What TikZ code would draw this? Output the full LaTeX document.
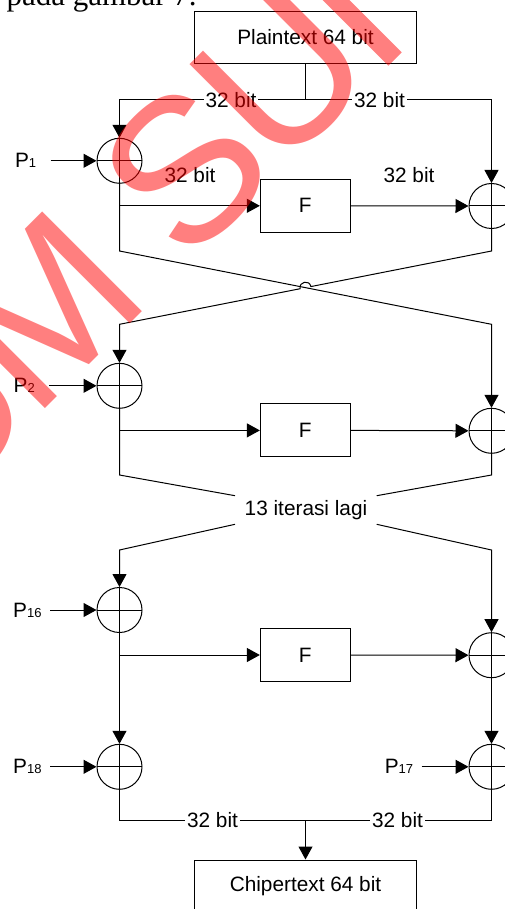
\documentclass[tikz,border=0pt]{standalone}
\usepackage{fontspec}
\setmainfont{Liberation Sans}
\newfontfamily\headserif{Liberation Serif}
\usetikzlibrary{arrows.meta,calc}
\newcommand{\smallsub}[1]{{\fontsize{13}{13}\selectfont #1}}
\tikzset{
  base/.style={font=\fontsize{20.8}{24}\selectfont},
  txtbox/.style={base, draw, minimum width=222.7pt, minimum height=52pt, inner sep=0pt},
  fbox/.style={base, draw, minimum width=89.7pt, minimum height=53pt, inner sep=0pt},
  xor/.style={draw, circle, minimum size=45pt, inner sep=0pt,
    path picture={\draw (path picture bounding box.north) -- (path picture bounding box.south)
                        (path picture bounding box.west) -- (path picture bounding box.east);}},
  arr/.style={-{Triangle[length=13pt,width=14pt]}},
  lbl/.style={base, fill=white, inner xsep=2pt, inner ysep=0pt},
  plain/.style={base, inner sep=0pt},
  plbl/.style={base, inner ysep=0pt, anchor=east},
  wm/.style={text=red, text opacity=0.5, inner sep=0pt, rotate=45, anchor=base west,
    font=\fontsize{205}{205}\selectfont}
}
\begin{document}
\begin{tikzpicture}[x=1pt,y=-1pt,line width=1pt]
\useasboundingbox (0,0) rectangle (505,909);
\clip (0,0) rectangle (505,909);
\fill[white] (0,0) rectangle (505,909);

% heading fragment
\node[anchor=base west, inner sep=0pt, font=\headserif\fontsize{31}{31}\selectfont] (head) at (6,6) {pada gambar 7.};

% boxes
\node[txtbox] (pt) at (305.5,37.5) {Plaintext 64 bit};
\node[txtbox] (ct) at (305.5,886) {Chipertext 64 bit};
\node[fbox] (f1) at (305.2,205.8) {F};
\node[fbox] (f2) at (305.2,430.4) {F};
\node[fbox] (f3) at (305.2,655) {F};

% xor circles
\node[xor] (x1) at (119.5,160.8) {};
\node[xor] (y1) at (491.5,206) {};
\node[xor] (x2) at (119.5,385.8) {};
\node[xor] (y2) at (491.5,430.8) {};
\node[xor] (x3) at (119.5,610) {};
\node[xor] (y3) at (491.5,655.2) {};
\node[xor] (x4) at (119.5,766.8) {};
\node[xor] (y4) at (491.5,766.8) {};

% P labels
\node[plbl, inner xsep=14pt] (p1) at (50.7,160.8) {P\smallsub{1}};
\node[plbl, inner xsep=14pt] (p2) at (49.3,385.8) {P\smallsub{2}};
\node[plbl, inner xsep=8pt] (p16) at (50,610) {P\smallsub{16}};
\node[plbl, inner xsep=8pt] (p18) at (50,766.8) {P\smallsub{18}};
\node[plbl, inner xsep=8pt] (p17) at (421.7,766.8) {P\smallsub{17}};
\draw[arr] (p1.east) -- (x1.west);
\draw[arr] (p2.east) -- (x2.west);
\draw[arr] (p16.east) -- (x3.west);
\draw[arr] (p18.east) -- (x4.west);
\draw[arr] (p17.east) -- (y4.west);

% top split
\coordinate (j1) at (305.5,100);
\draw (pt.south) -- (j1);
\draw[arr] (j1) -| (x1.north);
\draw[arr] (j1) -| (y1.north);
\node[lbl] (l1) at (231,100) {32 bit};
\node[lbl] (l2) at (379.5,100) {32 bit};
\node[plain] (l3) at (190,175) {32 bit};
\node[plain] (l4) at (409,175) {32 bit};

% round 1
\coordinate (b1) at (x1.south |- f1.west);
\draw[arr] (b1) -- (f1.west);
\draw[arr] (f1.east) -- (y1.west);
\coordinate (c1) at (119.5,251);
\coordinate (c2) at (491.5,251);
\coordinate (c3) at (119.5,324.3);
\coordinate (c4) at (491.5,324.3);
\coordinate (h1) at (300.1,288.73);
\coordinate (h2) at (310.9,286.57);
\draw[arr] (x1.south) -- (c1) -- (c4) -- (y2.north);
\draw[arr] (y1.south) -- (c2) -- (h2) .. controls (309.5,279.4) and (298.7,281.5) .. (h1) -- (c3) -- (x2.north);

% round 2
\coordinate (b2) at (x2.south |- f2.west);
\draw[arr] (b2) -- (f2.west);
\draw[arr] (f2.east) -- (y2.west);
\node[plain] (it) at (306,510) {13 iterasi lagi};
\coordinate (d1) at (119.5,475);
\coordinate (d2) at (491.5,475);
\coordinate (d3) at (235,495.7);
\coordinate (d4) at (376.7,495.7);
\coordinate (d5) at (235,524.3);
\coordinate (d6) at (376.7,524.3);
\coordinate (d7) at (119.5,550);
\coordinate (d8) at (491.5,550);
\draw (x2.south) -- (d1) -- (d3);
\draw (y2.south) -- (d2) -- (d4);
\draw[arr] (d5) -- (d7) -- (x3.north);
\draw[arr] (d6) -- (d8) -- (y3.north);

% round 3
\coordinate (b3) at (x3.south |- f3.west);
\draw[arr] (b3) -- (f3.west);
\draw[arr] (f3.east) -- (y3.west);
\draw[arr] (x3.south) -- (x4.north);
\draw[arr] (y3.south) -- (y4.north);

% bottom join
\coordinate (j2) at (305.5,820);
\draw (x4.south) |- (j2) -| (y4.south);
\draw[arr] (j2) -- (ct.north);
\node[lbl] (l5) at (212.5,820) {32 bit};
\node[lbl] (l6) at (397.5,820) {32 bit};

% watermark
\node[wm] (wu1) at (-62.2,516.2) {U};
\node[wm] (wm2) at (33.5,420.5) {M};
\node[wm] (ws3) at (186,268) {S};
\node[wm] (wu4) at (277.8,176.2) {U};
\draw[red, opacity=0.5, line width=19pt] (395,59) -- (238.7,-97.3);
\end{tikzpicture}
\end{document}
